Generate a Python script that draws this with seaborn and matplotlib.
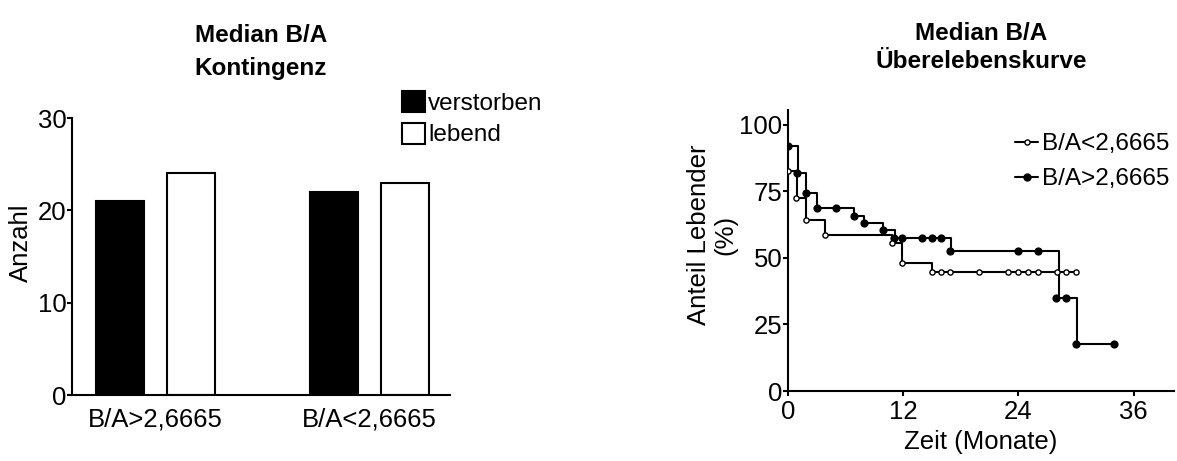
import matplotlib
matplotlib.use("Agg")
import matplotlib.pyplot as plt
from matplotlib.patches import Patch
from matplotlib.lines import Line2D
import seaborn as sns
import pandas as pd

# ---------------- data ----------------
groups = ["B/A>2,6665", "B/A<2,6665"]
status = ["verstorben", "lebend"]
counts_verstorben = [21, 22]
counts_lebend = [24, 23]

# Kaplan-Meier steps (time in months, survival in %)
high_t = [0, 1.0, 1.9, 3.0, 6.9, 7.9, 9.9, 11.1, 17.0, 28.2, 30.1, 34.0]
high_s = [92, 82, 74.3, 68.7, 65.8, 63.3, 60.5, 57.6, 52.7, 34.8, 17.7, 17.7]
high_mark_t = [0, 0.9, 1.9, 3.0, 5.0, 6.9, 7.9, 9.9, 11.0, 11.9, 14.0, 15.0, 15.9,
               16.9, 24.0, 26.0, 27.9, 29.0, 30.0, 34.0]
high_mark_s = [92, 82, 74.3, 68.7, 68.7, 65.8, 63.3, 60.5, 57.6, 57.6, 57.6, 57.6, 57.6,
               52.7, 52.7, 52.7, 34.8, 34.8, 17.7, 17.7]

low_t = [0, 0.9, 1.9, 3.9, 10.8, 11.9, 15.0, 30.0]
low_s = [82.8, 72.4, 64.3, 58.6, 55.8, 48.0, 44.6, 44.6]
low_mark_t = [0, 0.8, 1.9, 3.9, 10.8, 11.9, 15.0, 15.9, 16.9, 19.9, 22.9, 24.0,
              25.0, 26.0, 28.0, 29.0, 30.0]
low_mark_s = [82.8, 72.4, 64.3, 58.6, 55.8, 48.0, 44.6, 44.6, 44.6, 44.6, 44.6, 44.6,
              44.6, 44.6, 44.6, 44.6, 44.6]

label_low = "B/A<2,6665"
label_high = "B/A>2,6665"

# ---------------- style ----------------
sns.set_style("ticks")
plt.rcParams["font.family"] = ["Liberation Sans", "DejaVu Sans"]
plt.rcParams["axes.linewidth"] = 1.5
plt.rcParams["xtick.major.width"] = 1.5
plt.rcParams["ytick.major.width"] = 1.5
plt.rcParams["xtick.color"] = "black"
plt.rcParams["ytick.color"] = "black"
plt.rcParams["axes.edgecolor"] = "black"
plt.rcParams["text.color"] = "black"
plt.rcParams["axes.labelcolor"] = "black"

W, H = 1177, 461
fig = plt.figure(figsize=(W / 100, H / 100), dpi=100)

def fx(px):
    return px / W

def fy(py):
    return 1 - py / H

FS = 18.5

# ---------------- left: bar chart ----------------
ax1 = fig.add_axes([fx(72), fy(395), fx(450) - fx(72), fy(118) - fy(395)])
df = pd.DataFrame({
    "group": groups * 2,
    "status": [status[0]] * 2 + [status[1]] * 2,
    "count": counts_verstorben + counts_lebend,
})
sns.barplot(data=df, x="group", y="count", hue="status", order=groups,
            hue_order=status, palette=["black", "white"], edgecolor="black",
            linewidth=1.5, width=0.664, gap=0.317, ax=ax1, legend=False)
ax1.set_xlim(-0.39, 1.376)
ax1.set_ylim(0, 30)
ax1.set_yticks([0, 10, 20, 30])
ax1.set_xlabel("")
ax1.set_ylabel("Anzahl", fontsize=FS, va="center")
ax1.yaxis.set_label_coords(-0.135, 0.55)
ax1.tick_params(axis="x", length=0, pad=9, labelsize=FS)
ax1.tick_params(axis="y", length=3.5, pad=0.5, labelsize=FS)
sns.despine(ax=ax1)

h1 = [Patch(facecolor="black", edgecolor="black", linewidth=1.5),
      Patch(facecolor="white", edgecolor="black", linewidth=1.5)]
fig.legend(h1, status, loc="upper left", bbox_to_anchor=(fx(402), fy(91)),
           frameon=False, fontsize=17.5, handlelength=0.95, handleheight=0.95,
           handletextpad=0.12, labelspacing=0.32, borderpad=0, borderaxespad=0)

fig.text(fx(261), fy(36), "Median B/A", ha="center", va="center",
         fontsize=17.5, fontweight="bold")
fig.text(fx(261), fy(69), "Kontingenz", ha="center", va="center",
         fontsize=17.5, fontweight="bold")

# ---------------- right: survival curves ----------------
ax2 = fig.add_axes([fx(788), fy(391), fx(1174) - fx(788), fy(110) - fy(391)])
sns.lineplot(x=high_t, y=high_s, drawstyle="steps-post", color="black",
             linewidth=1.5, estimator=None, ax=ax2)
sns.lineplot(x=low_t, y=low_s, drawstyle="steps-post", color="black",
             linewidth=1.5, estimator=None, ax=ax2)
sns.scatterplot(x=high_mark_t, y=high_mark_s, marker="o", s=26, color="black",
                edgecolor="black", linewidth=0.8, ax=ax2, zorder=4)
sns.scatterplot(x=low_mark_t, y=low_mark_s, marker="o", s=14, facecolor="white",
                edgecolor="black", linewidth=1.0, ax=ax2, zorder=5)
ax2.set_xlim(0, 40.2)
ax2.set_ylim(0, 105.6)
ax2.set_xticks([0, 12, 24, 36])
ax2.set_yticks([0, 25, 50, 75, 100])
ax2.set_xlabel("Zeit (Monate)", fontsize=FS)
ax2.xaxis.set_label_coords(0.5, -0.14)
ax2.set_ylabel("Anteil Lebender\n(%)", fontsize=FS, va="center",
               multialignment="center", linespacing=1.15)
ax2.yaxis.set_label_coords(-0.197, 0.555)
ax2.tick_params(axis="x", length=3.5, pad=3, labelsize=FS)
ax2.tick_params(axis="y", length=3.5, pad=0.5, labelsize=FS)
sns.despine(ax=ax2)

h2 = [Line2D([0], [0], color="black", lw=1.5, marker="o", ms=3.7,
             mfc="white", mec="black", mew=1.0),
      Line2D([0], [0], color="black", lw=1.5, marker="o", ms=5,
             mfc="black", mec="black")]
fig.legend(h2, [label_low, label_high], loc="upper left",
           bbox_to_anchor=(fx(1015), fy(133)), frameon=False, fontsize=17.5,
           handlelength=0.95, handletextpad=0.16, labelspacing=0.55,
           borderpad=0, borderaxespad=0)

fig.text(fx(981), fy(34), "Median B/A", ha="center", va="center",
         fontsize=17.5, fontweight="bold")
fig.text(fx(981), fy(61), "Überelebenskurve", ha="center", va="center",
         fontsize=17.5, fontweight="bold")

fig.savefig("out.png", dpi=100, facecolor="white")
